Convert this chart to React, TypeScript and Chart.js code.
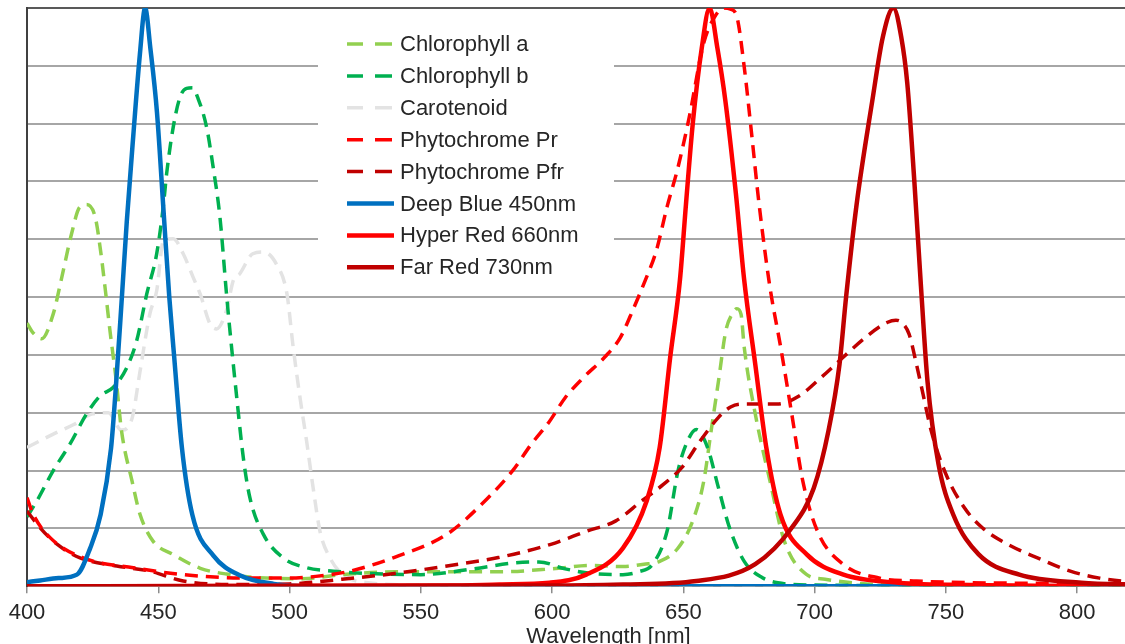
import React, { useEffect, useRef } from "react";
import { Chart, registerables } from "chart.js";

Chart.register(...registerables);

// ---- Data (wavelength in nm, relative value 0..1) ----
const xTicks = [400, 450, 500, 550, 600, 650, 700, 750, 800];

const chlAWl = [400, 402, 405.6, 410, 413, 417, 420, 422.7, 426, 428, 430, 431.6, 434, 436, 440, 443, 448, 455.6, 466, 476, 491, 505, 520, 540, 560, 580, 600, 615, 627, 635, 641, 648, 653.6, 657.8, 660.6, 663.4, 666.2, 668.5, 670.4, 672, 673.2, 677.4, 683, 688.5, 697, 704, 720, 760, 843];
const chlAVal = [0.455, 0.44, 0.428, 0.471, 0.529, 0.61, 0.655, 0.66, 0.638, 0.581, 0.506, 0.442, 0.355, 0.269, 0.182, 0.125, 0.078, 0.055, 0.031, 0.021, 0.014, 0.013, 0.02, 0.025, 0.025, 0.025, 0.03, 0.036, 0.034, 0.038, 0.043, 0.066, 0.113, 0.182, 0.269, 0.355, 0.442, 0.47, 0.48, 0.47, 0.413, 0.298, 0.182, 0.078, 0.02, 0.012, 0.004, 0.001, 0];

const chlBWl = [400, 403.7, 410, 416.4, 422.7, 427.8, 432.9, 438, 441.8, 445.6, 449.4, 451.9, 453.2, 455.7, 458.3, 460.8, 463, 465.2, 468.4, 470.9, 473.5, 476, 477.3, 479.9, 482.4, 484.9, 490, 497.6, 506.5, 516.7, 530, 550, 570, 585, 595, 605, 615, 627, 633, 638.3, 643.8, 648, 651.5, 655, 659.2, 663.4, 667.6, 673.2, 680, 686, 700, 843];
const chlBVal = [0.12, 0.147, 0.2, 0.246, 0.298, 0.329, 0.344, 0.378, 0.425, 0.505, 0.575, 0.656, 0.714, 0.794, 0.846, 0.861, 0.862, 0.843, 0.794, 0.725, 0.638, 0.505, 0.442, 0.326, 0.222, 0.153, 0.09, 0.049, 0.032, 0.026, 0.022, 0.02, 0.03, 0.04, 0.042, 0.03, 0.022, 0.02, 0.025, 0.038, 0.095, 0.2, 0.25, 0.271, 0.24, 0.17, 0.101, 0.043, 0.015, 0.006, 0.002, 0];

const caroWl = [400, 410, 418, 425, 431, 436, 440, 443, 446.8, 449.4, 452, 455.7, 459.5, 463.3, 466, 469.7, 472.2, 476, 478.6, 481, 486, 490, 495, 499, 501.4, 504, 506.5, 509, 511.6, 515.4, 520.4, 530, 550, 843];
const caroVal = [0.24, 0.263, 0.28, 0.298, 0.3, 0.27, 0.29, 0.37, 0.471, 0.511, 0.598, 0.601, 0.575, 0.534, 0.505, 0.454, 0.445, 0.477, 0.529, 0.54, 0.575, 0.578, 0.557, 0.506, 0.413, 0.326, 0.251, 0.17, 0.095, 0.049, 0.02, 0.006, 0.002, 0];

const prWl = [400, 402.4, 408.8, 421.4, 440.5, 459.5, 485, 500, 510, 523, 540, 560, 575, 585, 592, 599, 605, 612, 620, 626, 631, 635.5, 639.7, 643.8, 648, 652.2, 657.8, 662, 665.5, 668, 670.4, 673.2, 676, 678.7, 682.9, 687.1, 691.3, 695.5, 701.1, 710.9, 724.8, 738.8, 760, 790, 820, 843];
const prVal = [0.153, 0.124, 0.084, 0.049, 0.032, 0.02, 0.014, 0.014, 0.017, 0.026, 0.05, 0.09, 0.15, 0.2, 0.245, 0.285, 0.326, 0.361, 0.396, 0.43, 0.48, 0.529, 0.58, 0.656, 0.725, 0.81, 0.94, 0.985, 1.0, 0.998, 0.985, 0.898, 0.783, 0.667, 0.52, 0.413, 0.298, 0.182, 0.095, 0.038, 0.014, 0.009, 0.006, 0.005, 0.004, 0.003];

const pfrWl = [400, 405, 411.3, 420.2, 434.2, 446.8, 459.5, 478.5, 500, 520, 540, 560, 580, 599.2, 613.1, 624.3, 634, 642.4, 649.4, 656.4, 663.4, 668, 671.8, 685.7, 694.1, 702.5, 710.9, 719.3, 727.6, 731, 733.2, 736, 738.8, 741.6, 744.4, 750, 757, 763.9, 773.7, 784.9, 797.4, 808.6, 817, 843];
const pfrVal = [0.13, 0.101, 0.073, 0.049, 0.035, 0.026, 0.009, 0.003, 0.004, 0.012, 0.022, 0.035, 0.05, 0.072, 0.095, 0.113, 0.147, 0.176, 0.205, 0.251, 0.292, 0.31, 0.315, 0.315, 0.329, 0.361, 0.396, 0.43, 0.456, 0.46, 0.456, 0.436, 0.384, 0.326, 0.269, 0.194, 0.136, 0.101, 0.072, 0.049, 0.026, 0.014, 0.009, 0.003];

const blueWl = [400, 405, 412, 419, 424, 428, 432, 434, 436, 438, 440.5, 443, 445, 447, 449.5, 452, 454.2, 456, 459, 463, 471, 481, 494, 510, 843];
const blueVal = [0.007, 0.01, 0.014, 0.02, 0.065, 0.123, 0.238, 0.354, 0.49, 0.63, 0.78, 0.92, 1.0, 0.93, 0.82, 0.65, 0.5, 0.4, 0.24, 0.123, 0.053, 0.019, 0.004, 0, 0];

const hyperWl = [400, 560, 580, 599, 613, 627, 636, 641, 645, 648.7, 651, 653.6, 657, 660, 663, 666, 670, 673.2, 677.4, 681.6, 687, 697, 711, 732, 760, 843];
const hyperVal = [0, 0.001, 0.003, 0.006, 0.02, 0.066, 0.147, 0.24, 0.396, 0.529, 0.66, 0.8, 0.93, 1.0, 0.93, 0.84, 0.68, 0.529, 0.384, 0.24, 0.124, 0.055, 0.02, 0.006, 0.002, 0];

const farWl = [400, 600, 627, 655, 677.4, 691.3, 699.7, 705.3, 709.5, 712, 716, 722, 726, 730, 733, 735.3, 738, 740.5, 743, 747.2, 752.8, 762.5, 778, 801.6, 820, 843];
const farVal = [0, 0.001, 0.003, 0.009, 0.038, 0.101, 0.17, 0.269, 0.384, 0.5, 0.66, 0.84, 0.95, 1.0, 0.95, 0.87, 0.7, 0.52, 0.355, 0.211, 0.124, 0.055, 0.02, 0.006, 0.003, 0.002];

const seriesNames = ["Chlorophyll a", "Chlorophyll b", "Carotenoid", "Phytochrome Pr", "Phytochrome Pfr", "Deep Blue 450nm", "Hyper Red 660nm", "Far Red 730nm"];
const seriesColors = ["#92D050", "#00B050", "#E3E3E3", "#FF0000", "#C00000", "#0070C0", "#FF0000", "#C00000"];
const seriesDashed = [true, true, true, true, true, false, false, false];
const seriesWl = [chlAWl, chlBWl, caroWl, prWl, pfrWl, blueWl, hyperWl, farWl];
const seriesVal = [chlAVal, chlBVal, caroVal, prVal, pfrVal, blueVal, hyperVal, farVal];
const seriesOrder = [7, 6, 8, 4, 5, 2, 1, 0];

const FONT = "'Liberation Sans', Arial, sans-serif";
const CANVAS_W = 1190;
const CANVAS_H = 650;

export default function App() {
  const ref = useRef<HTMLCanvasElement>(null);

  useEffect(() => {
    if (!ref.current) return;

    const legendPlugin = {
      id: "boxLegend",
      beforeDatasetsDraw(chart: any) {
        const ctx = chart.ctx;
        ctx.save();
        ctx.fillStyle = "#ffffff";
        ctx.fillRect(318, 22, 296, 264);
        const x0 = 347;
        const x1 = 392;
        const tx = 400;
        const y0 = 44;
        const step = 31.9;
        ctx.font = `22px ${FONT}`;
        ctx.textBaseline = "middle";
        ctx.textAlign = "left";
        seriesNames.forEach((name, i) => {
          const y = y0 + i * step;
          ctx.strokeStyle = seriesColors[i];
          ctx.lineWidth = seriesDashed[i] ? 3.5 : 4.5;
          ctx.lineCap = "butt";
          ctx.beginPath();
          if (seriesDashed[i]) {
            ctx.moveTo(x0, y);
            ctx.lineTo(x0 + 16, y);
            ctx.moveTo(x0 + 28, y);
            ctx.lineTo(x1, y);
          } else {
            ctx.moveTo(x0, y);
            ctx.lineTo(x1 + 2, y);
          }
          ctx.stroke();
          ctx.fillStyle = "#262626";
          ctx.fillText(name, tx, y + 1);
        });
        ctx.restore();
      },
    };

    const datasets = seriesNames.map((name, i) => ({
      label: name,
      data: seriesWl[i].map((x, j) => ({ x, y: seriesVal[i][j] })),
      borderColor: seriesColors[i],
      backgroundColor: seriesColors[i],
      borderWidth: seriesDashed[i] ? 3.5 : 4.5,
      borderDash: seriesDashed[i] ? [13, 8] : [],
      pointRadius: 0,
      fill: false,
      cubicInterpolationMode: "monotone" as const,
      order: seriesOrder[i],
    }));

    const chart = new Chart(ref.current, {
      type: "line",
      data: { datasets },
      options: {
        animation: false,
        responsive: false,
        maintainAspectRatio: false,
        devicePixelRatio: 1,
        layout: { padding: { left: 27, top: 8, right: 0, bottom: 0 } },
        plugins: {
          legend: { display: false },
          tooltip: { enabled: false },
        },
        scales: {
          x: {
            type: "linear",
            min: 400,
            max: 843,
            afterBuildTicks: (axis: any) => {
              axis.ticks = xTicks.map((v) => ({ value: v }));
            },
            ticks: {
              stepSize: 50,
              font: { size: 22, family: FONT },
              color: "#262626",
              padding: 7,
              maxRotation: 0,
              autoSkip: false,
            },
            grid: {
              drawOnChartArea: false,
              drawTicks: true,
              tickLength: 7,
              color: "#8c8c8c",
              lineWidth: 1.5,
            },
            border: { display: true, color: "#8c8c8c", width: 1.5 },
            title: {
              display: true,
              text: "Wavelength [nm]",
              font: { size: 22, family: FONT },
              color: "#262626",
              padding: { top: -10, bottom: 0 },
            },
          },
          y: {
            min: 0,
            max: 1,
            ticks: { display: false, stepSize: 0.1 },
            grid: {
              drawTicks: false,
              color: (c: any) => (c.tick && c.tick.value >= 0.999 ? "#595959" : "#a6a6a6"),
              lineWidth: 2,
            },
            border: { display: true, color: "#404040", width: 2 },
          },
        },
      },
      plugins: [legendPlugin],
    });

    return () => chart.destroy();
  }, []);

  return (
    <div
      style={{
        position: "absolute",
        left: 0,
        top: 0,
        width: 1125,
        height: 644,
        overflow: "hidden",
        background: "#ffffff",
      }}
    >
      <canvas
        ref={ref}
        width={CANVAS_W}
        height={CANVAS_H}
        style={{ width: CANVAS_W, height: CANVAS_H, display: "block" }}
      />
    </div>
  );
}
